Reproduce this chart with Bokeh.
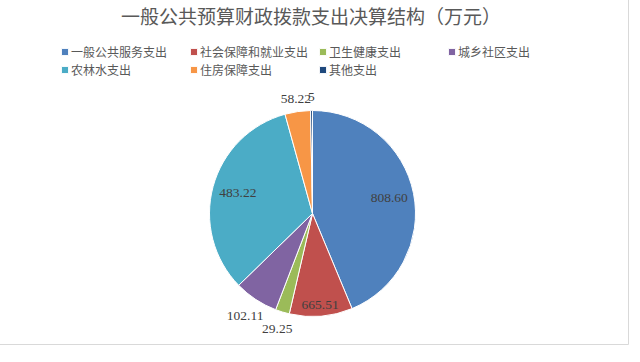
import numpy as np
from bokeh.plotting import figure
from bokeh.models import ColumnDataSource, Range1d, Legend, LegendItem, Label
from bokeh.core.properties import value
from bokeh.embed import file_html
from bokeh.resources import INLINE

# ---- data ----
categories = ["一般公共服务支出", "社会保障和就业支出", "卫生健康支出", "城乡社区支出",
              "农林水支出", "住房保障支出", "其他支出"]
# slice sizes as drawn in the picture (percent of the circle)
shares = [43.75, 9.9, 2.2, 6.9, 33.0, 4.0, 0.3]
# data label texts as shown on the chart
label_texts = ["808.60", "665.51", "29.25", "102.11", "483.22", "58.22", "5"]
colors = ["#4F81BD", "#C0504D", "#9BBB59", "#8064A2", "#4BACC6", "#F79646", "#1F497D"]
# radial placement of each data label (fraction of radius) - style only
label_radius = [0.76, 0.89, 1.17, 1.19, 0.75, 1.12, 1.13]

title_text = "一般公共预算财政拨款支出决算结构（万元）"

R = 103
sh = np.array(shares, dtype=float)
frac = sh / sh.sum()
cum_after = np.cumsum(frac)
cum_before = cum_after - frac
start = np.pi / 2 - 2 * np.pi * cum_before
end = np.pi / 2 - 2 * np.pi * cum_after
mid = (start + end) / 2
lr = np.array(label_radius) * R

src = ColumnDataSource(dict(cat=categories, start=start, end=end, color=colors))
lsrc = ColumnDataSource(dict(x=lr * np.cos(mid), y=lr * np.sin(mid), t=label_texts))

p = figure(width=633, height=351, x_range=Range1d(-316, 317), y_range=Range1d(-132, 219),
           output_backend="svg", toolbar_location=None, min_border=0,
           x_axis_type=None, y_axis_type=None)
p.styles = {"margin-left": "-4px", "margin-top": "-6px"}
p.grid.visible = False
p.outline_line_color = "#D9D9D9"
p.outline_line_width = 1
p.background_fill_color = "white"
p.border_fill_color = "white"

r = p.wedge(x=0, y=0, radius=R, start_angle="start", end_angle="end", direction="clock",
            fill_color="color", line_color="white", line_width=1, source=src)

p.text(x="x", y="y", text="t", source=lsrc, text_align="center", text_baseline="middle",
       text_font=value("Liberation Serif"), text_font_size="13.5px", text_color="#404040")

p.add_layout(Label(x=-1.5, y=198.5, text=title_text, text_align="center", text_baseline="middle",
                   text_font="Noto Sans CJK SC", text_font_size="19px", text_color="#595959"))

items = [LegendItem(label=c, renderers=[r], index=i) for i, c in enumerate(categories)]
legend = Legend(items=items, ncols=4, orientation="horizontal", location=(64, 267),
                glyph_width=9, glyph_height=9, label_standoff=2, label_width=118,
                label_height=18, spacing=0, padding=0, margin=0,
                border_line_color=None, background_fill_alpha=0,
                label_text_font="Noto Sans CJK SC", label_text_font_size="12px",
                label_text_color="#595959")
p.add_layout(legend, "center")

open("out.html", "w").write(file_html(p, INLINE))
